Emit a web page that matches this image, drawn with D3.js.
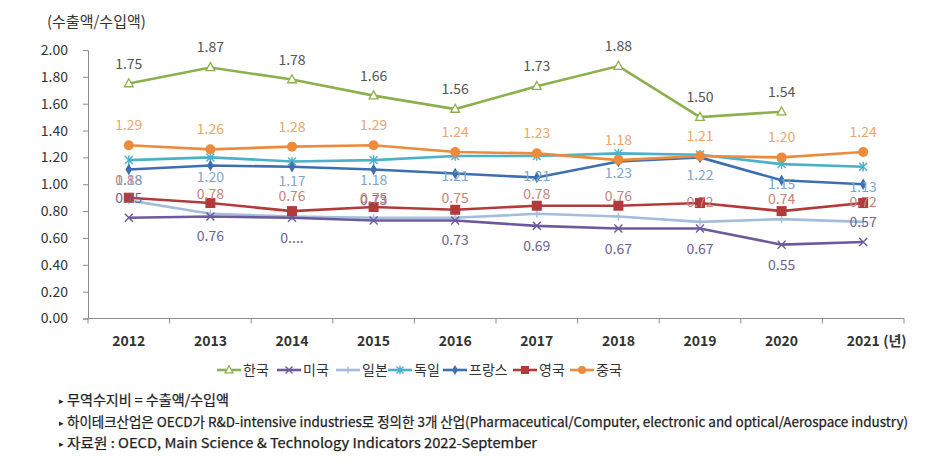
<!DOCTYPE html>
<html>
<head>
<meta charset="utf-8">
<script src="https://cdn.jsdelivr.net/npm/d3@7"></script>
<style>
  body { margin: 0; background: #fff; }
  svg text { font-family: "Noto Sans CJK KR", "Noto Sans", sans-serif; }
</style>
</head>
<body>
<div id="chart-area"></div>
<script>
// data
var years = ["2012", "2013", "2014", "2015", "2016", "2017", "2018", "2019", "2020", "2021"];
var yTicks = [0, 0.2, 0.4, 0.6, 0.8, 1.0, 1.2, 1.4, 1.6, 1.8, 2.0];

var korea   = [1.75, 1.87, 1.78, 1.66, 1.56, 1.73, 1.88, 1.50, 1.54, null];
var usa     = [0.75, 0.76, 0.75, 0.73, 0.73, 0.69, 0.67, 0.67, 0.55, 0.57];
var japan   = [0.88, 0.78, 0.76, 0.75, 0.75, 0.78, 0.76, 0.72, 0.74, 0.72];
var germany = [1.18, 1.20, 1.17, 1.18, 1.21, 1.21, 1.23, 1.22, 1.15, 1.13];
var france  = [1.11, 1.14, 1.13, 1.11, 1.08, 1.05, 1.17, 1.20, 1.03, 1.00];
var uk      = [0.90, 0.86, 0.80, 0.83, 0.81, 0.84, 0.84, 0.86, 0.80, 0.86];
var china   = [1.29, 1.26, 1.28, 1.29, 1.24, 1.23, 1.18, 1.21, 1.20, 1.24];

// labels shown in the picture (one is cut off there)
var usaLabels = ["0.75", "0.76", "0....", "0.73", "0.73", "0.69", "0.67", "0.67", "0.55", "0.57"];
var usaLabelAbove = [true, false, false, true, false, false, false, false, false, true];

var notes = [
    "무역수지비 = 수출액/수입액",
    "하이테크산업은 OECD가 R&D-intensive industries로 정의한 3개 산업(Pharmaceutical/Computer, electronic and optical/Aerospace industry)",
    "자료원 : OECD, Main Science & Technology Indicators 2022-September"
];

var series = [
    {name: "한국",   values: korea,   color: "#8db04e", marker: "triangle", labelColor: "#555", label: "above"},
    {name: "미국",   values: usa,     color: "#6c5a9c", marker: "x",        labelColor: "#6e6390", label: "usa"},
    {name: "일본",   values: japan,   color: "#a3bddb", marker: "plus",     labelColor: "#c4857c", label: "above"},
    {name: "독일",   values: germany, color: "#4cb1c8", marker: "star",     labelColor: "#7ea6cc", label: "below"},
    {name: "프랑스", values: france,  color: "#3d6fb0", marker: "diamond",  labelColor: null,      label: null},
    {name: "영국",   values: uk,      color: "#b23a3a", marker: "square",   labelColor: null,      label: null},
    {name: "중국",   values: china,   color: "#ee8a3c", marker: "circle",   labelColor: "#eba66c", label: "above"}
];
var drawOrder = [3, 4, 2, 1, 5, 6, 0];

var width = 925, height = 468;
var svg = d3.select("#chart-area").append("svg")
    .attr("width", width)
    .attr("height", height);

var x = d3.scaleBand()
    .domain(years)
    .range([88, 904]);

var y = d3.scaleLinear()
    .domain([0, 2])
    .range([318.5, 50]);

// axes
var yAxis = d3.axisLeft(y)
    .tickValues(yTicks)
    .tickSize(5)
    .tickFormat(d3.format(".2f"));
var yAxisGroup = svg.append("g")
    .attr("transform", "translate(88, 0)")
    .call(yAxis);
yAxisGroup.selectAll("path, line").attr("stroke", "#8c8c8c");
yAxisGroup.selectAll("text")
    .attr("x", -20)
    .attr("fill", "#333")
    .attr("font-size", "14px");

var xAxisGroup = svg.append("g")
    .attr("transform", "translate(0, 318.5)");
xAxisGroup.append("line")
    .attr("x1", 88).attr("x2", 904)
    .attr("stroke", "#8c8c8c");
xAxisGroup.selectAll(".tk")
    .data(years.concat(["end"]))
    .enter().append("line")
    .attr("x1", (d, i) => i < years.length ? x(d) : 904)
    .attr("x2", (d, i) => i < years.length ? x(d) : 904)
    .attr("y1", 0).attr("y2", 5)
    .attr("stroke", "#8c8c8c");
xAxisGroup.selectAll(".xl")
    .data(years)
    .enter().append("text")
    .attr("x", (d) => x(d) + x.bandwidth() / 2)
    .attr("y", 27)
    .attr("text-anchor", "middle")
    .attr("font-size", "14px")
    .attr("font-weight", "bold")
    .attr("fill", "#333")
    .text((d) => d);
svg.append("text")
    .attr("x", x("2021") + x.bandwidth() / 2 + 20)
    .attr("y", 318.5 + 27)
    .attr("font-size", "14px")
    .attr("font-weight", "bold")
    .attr("fill", "#333")
    .text("(년)");

svg.append("text")
    .attr("x", 47)
    .attr("y", 27)
    .attr("font-size", "15px")
    .attr("fill", "#333")
    .text("(수출액/수입액)");

function markerPath(type, size) {
    var s = size;
    switch (type) {
        case "triangle": return "M0," + (-s * 0.6) + "L" + (s * 0.55) + "," + (s * 0.4) + "L" + (-s * 0.55) + "," + (s * 0.4) + "Z";
        case "x": return "M" + (-s / 2) + "," + (-s / 2) + "L" + (s / 2) + "," + (s / 2) + "M" + (-s / 2) + "," + (s / 2) + "L" + (s / 2) + "," + (-s / 2);
        case "plus": return "M" + (-s / 2) + ",0L" + (s / 2) + ",0M0," + (-s / 2) + "L0," + (s / 2);
        case "star": return "M" + (-s / 2) + "," + (-s / 2) + "L" + (s / 2) + "," + (s / 2) + "M" + (-s / 2) + "," + (s / 2) + "L" + (s / 2) + "," + (-s / 2) + "M0," + (-s * 0.6) + "L0," + (s * 0.6);
        default: return null;
    }
}

function drawMarker(g, type, color, cx, cy, size) {
    if (type == "circle") {
        g.append("circle").attr("cx", cx).attr("cy", cy).attr("r", size / 2).attr("fill", color);
    } else if (type == "square") {
        g.append("rect").attr("x", cx - size / 2).attr("y", cy - size / 2)
            .attr("width", size).attr("height", size).attr("fill", color);
    } else if (type == "diamond") {
        g.append("path").attr("transform", "translate(" + cx + "," + cy + ")")
            .attr("d", d3.symbol().type(d3.symbolDiamond).size(size * size * 0.6)()).attr("fill", color);
    } else if (type == "triangle") {
        g.append("path").attr("transform", "translate(" + cx + "," + cy + ")")
            .attr("d", markerPath(type, size)).attr("fill", "#fff").attr("stroke", color).attr("stroke-width", 1.3);
    } else {
        g.append("path").attr("transform", "translate(" + cx + "," + cy + ")")
            .attr("d", markerPath(type, size)).attr("fill", "none").attr("stroke", color).attr("stroke-width", 1.4);
    }
}

var line = d3.line()
    .defined((d) => d != null)
    .x((d, i) => x(years[i]) + x.bandwidth() / 2)
    .y((d) => y(d));

var plot = svg.append("g");
drawOrder.forEach((k) => {
    var s = series[k];
    plot.append("path")
        .attr("d", line(s.values))
        .attr("fill", "none")
        .attr("stroke", s.color)
        .attr("stroke-width", 2.6);
    s.values.forEach((v, i) => {
        if (v == null) return;
        var size = (s.marker == "circle" || s.marker == "square") ? 10 : 8;
        drawMarker(plot, s.marker, s.color, x(years[i]) + x.bandwidth() / 2, y(v), size);
    });
});

// data labels
var labels = svg.append("g");
series.forEach((s) => {
    if (!s.label) return;
    s.values.forEach((v, i) => {
        if (v == null) return;
        var txt = s.label == "usa" ? usaLabels[i] : d3.format(".2f")(v);
        var above = s.label == "above" || (s.label == "usa" && usaLabelAbove[i]);
        labels.append("text")
            .attr("x", x(years[i]) + x.bandwidth() / 2)
            .attr("y", y(v) + (above ? -15 : 25))
            .attr("text-anchor", "middle")
            .attr("font-size", "14px")
            .attr("fill", s.labelColor)
            .text(txt);
    });
});

// legend
var legendX = [217, 277, 336, 388, 443, 513, 570];
var legend = svg.append("g");
series.forEach((s, i) => {
    var lx = legendX[i], ly = 370;
    legend.append("line")
        .attr("x1", lx).attr("x2", lx + 24)
        .attr("y1", ly).attr("y2", ly)
        .attr("stroke", s.color).attr("stroke-width", 2.6);
    drawMarker(legend, s.marker, s.color, lx + 12, ly, (s.marker == "circle" || s.marker == "square") ? 8 : 7);
    legend.append("text")
        .attr("x", lx + 26)
        .attr("y", ly + 5)
        .attr("font-size", "14px")
        .attr("fill", "#333")
        .text(s.name);
});

// notes
var noteY = [400, 422, 443];
var noteW = [162, 841, 470];
notes.forEach((n, i) => {
    svg.append("text")
        .attr("x", 59)
        .attr("y", noteY[i] + 4)
        .attr("font-size", "9px")
        .attr("fill", "#222")
        .text("▸");
    svg.append("text")
        .attr("x", 67)
        .attr("y", noteY[i] + 5)
        .attr("font-size", "13.5px")
        .attr("fill", "#222")
        .attr("stroke", "#222")
        .attr("stroke-width", 0.25)
        .attr("textLength", noteW[i])
        .attr("lengthAdjust", "spacingAndGlyphs")
        .text(n);
});
</script>
</body>
</html>
